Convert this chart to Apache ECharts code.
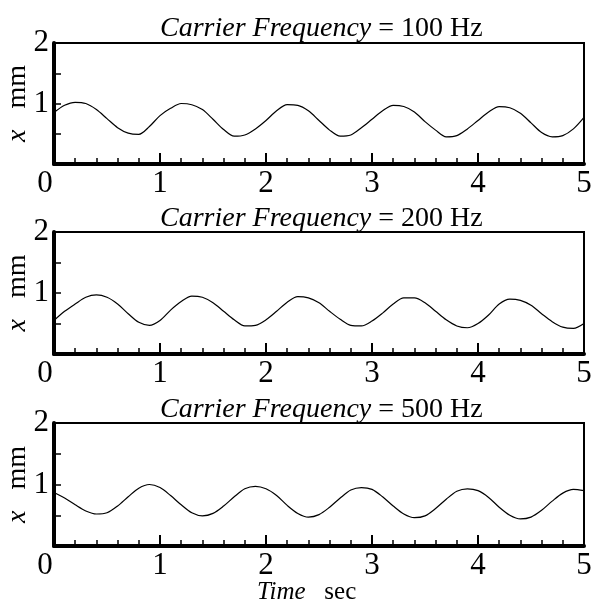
<!DOCTYPE html>
<html>
<head>
<meta charset="utf-8">
<script src="https://cdn.jsdelivr.net/npm/echarts@6/dist/echarts.min.js"></script>
<style>
html,body{margin:0;padding:0;background:#fff;}
#chart{width:591px;height:611px;}
</style>
</head>
<body>
<div id="chart"></div>
<script>
// time samples (sec)
var timeSec = [0.0,0.1,0.2,0.3,0.4,0.5,0.6,0.7,0.8,0.9,1.0,1.1,1.2,1.3,1.4,1.5,1.6,1.7,1.8,1.9,2.0,2.1,2.2,2.3,2.4,2.5,2.6,2.7,2.8,2.9,3.0,3.1,3.2,3.3,3.4,3.5,3.6,3.7,3.8,3.9,4.0,4.1,4.2,4.3,4.4,4.5,4.6,4.7,4.8,4.9,5.0];
var carrierLabels = ["100 Hz", "200 Hz", "500 Hz"];
// displacement x (mm)
var x100 = [0.85,0.97,1.02,1.00,0.90,0.75,0.60,0.51,0.49,0.62,0.80,0.92,1.00,0.98,0.90,0.74,0.57,0.46,0.48,0.58,0.72,0.88,0.98,0.97,0.88,0.72,0.56,0.46,0.48,0.60,0.74,0.88,0.97,0.95,0.86,0.70,0.56,0.45,0.47,0.58,0.72,0.86,0.95,0.93,0.84,0.68,0.52,0.45,0.47,0.58,0.77];
var x200 = [0.55,0.70,0.82,0.93,0.97,0.93,0.82,0.66,0.52,0.47,0.55,0.72,0.86,0.95,0.93,0.84,0.70,0.56,0.46,0.47,0.56,0.70,0.85,0.94,0.92,0.84,0.70,0.57,0.47,0.46,0.54,0.67,0.82,0.92,0.92,0.84,0.70,0.56,0.46,0.43,0.50,0.64,0.82,0.90,0.88,0.80,0.66,0.53,0.44,0.42,0.50];
var x500 = [0.87,0.78,0.67,0.57,0.52,0.54,0.65,0.80,0.94,1.00,0.95,0.82,0.67,0.54,0.49,0.53,0.65,0.80,0.93,0.97,0.93,0.82,0.66,0.53,0.47,0.51,0.63,0.78,0.91,0.95,0.92,0.80,0.65,0.52,0.46,0.49,0.61,0.76,0.89,0.93,0.90,0.79,0.63,0.50,0.44,0.47,0.58,0.73,0.86,0.92,0.90];
var xTickLabels = ["0","1","2","3","4","5"];
var yTickLabels = {"1":"1","2":"2"};

var series = [x100, x200, x500];
var tops = [43, 232, 423];
var heights = [121, 122, 123];
var titleTops = [15, 205, 396];
var serif = "'Liberation Serif', 'Times New Roman', serif";

var grids = [], xAxes = [], yAxes = [], ser = [], titles = [];
for (var i = 0; i < 3; i++) {
  grids.push({left: 54, width: 530, top: tops[i], height: heights[i], containLabel: false, outerBoundsMode: 'none',
    show: true, borderColor: '#000', borderWidth: 2, backgroundColor: 'transparent'});
  xAxes.push({
    type: 'value', gridIndex: i, min: 0, max: 5, interval: 1,
    axisLine: {show: true, onZero: false, lineStyle: {color: '#000', width: 4}},
    axisTick: {show: true, inside: true, length: 11, lineStyle: {color: '#000', width: 2}},
    minorTick: {show: true, splitNumber: 5, length: 6, lineStyle: {color: '#000', width: 1.5}},
    splitLine: {show: false},
    axisLabel: {
      show: true, margin: 4, color: '#000', fontFamily: serif, fontSize: 31,
      formatter: function (v) {
        var s = xTickLabels[Math.round(v)];
        return Math.round(v) === 0 ? '{z|' + s + '}' : s;
      },
      rich: {z: {fontFamily: serif, fontSize: 31, color: '#000', padding: [0, 18, 0, 0]}}
    }
  });
  yAxes.push({
    type: 'value', gridIndex: i, min: 0, max: 2, interval: 0.5,
    name: '{i|x}   mm', nameLocation: 'middle', nameRotate: 90, nameGap: 22, nameMoveOverlap: false,
    nameTextStyle: {color: '#000', fontFamily: serif, fontSize: 28,
      rich: {i: {fontFamily: serif, fontStyle: 'italic', fontSize: 28, color: '#000'}}},
    axisLine: {show: true, onZero: false, lineStyle: {color: '#000', width: 4}},
    axisTick: {show: true, inside: true, length: 7, lineStyle: {color: '#000', width: 1.5}},
    splitLine: {show: false},
    axisLabel: {
      show: true, margin: 5, color: '#000', fontFamily: serif, fontSize: 31,
      formatter: function (v) { return yTickLabels[String(v)] || ''; }
    }
  });
  ser.push({
    type: 'line', xAxisIndex: i, yAxisIndex: i, smooth: 0.3, showSymbol: false,
    lineStyle: {color: '#000', width: 1.2},
    data: timeSec.map(function (t, k) { return [t, series[i][k]]; })
  });
  titles.push({
    text: '{i|Carrier Frequency} = ' + carrierLabels[i],
    left: 160, top: titleTops[i], padding: 0,
    textStyle: {color: '#000', fontFamily: serif, fontSize: 28, fontWeight: 'normal',
      rich: {i: {fontFamily: serif, fontStyle: 'italic', fontSize: 28, color: '#000'}}}
  });
}
titles.push({
  text: '{i|Time}   sec',
  left: 257, top: 580, padding: 0,
  textStyle: {color: '#000', fontFamily: serif, fontSize: 25, fontWeight: 'normal',
    rich: {i: {fontFamily: serif, fontStyle: 'italic', fontSize: 25, color: '#000'}}}
});

var chart = echarts.init(document.getElementById('chart'), null, {renderer: 'canvas'});
chart.setOption({
  backgroundColor: '#fff',
  animation: false,
  title: titles,
  grid: grids,
  xAxis: xAxes,
  yAxis: yAxes,
  series: ser
});
</script>
</body>
</html>
